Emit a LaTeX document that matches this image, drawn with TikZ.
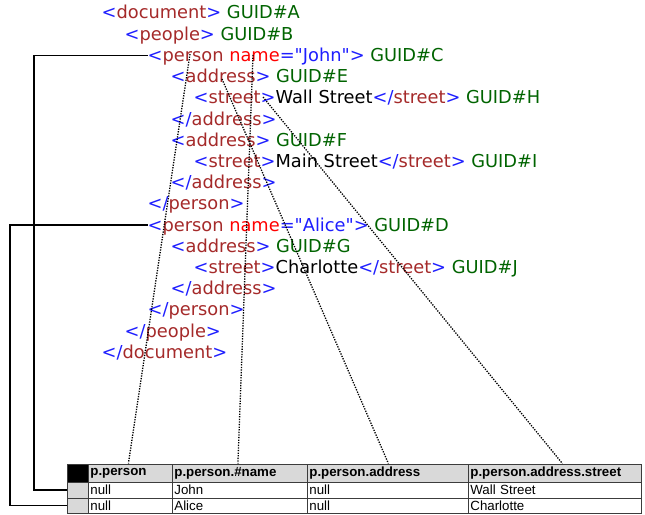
\documentclass[tikz,border=0pt]{standalone}
\usepackage{fontspec}
\setmainfont{DejaVu Sans}[Ligatures=TeXOff]
\newfontfamily\tabfont{Liberation Sans}
\usetikzlibrary{calc}
\definecolor{tb}{RGB}{30,30,255}
\definecolor{tn}{RGB}{165,42,42}
\definecolor{ta}{RGB}{255,0,0}
\definecolor{tg}{RGB}{0,100,0}
\definecolor{cellgray}{RGB}{217,217,217}
\definecolor{tgrid}{RGB}{60,60,60}
\newcommand\xo[1]{\textcolor{tb}{<}\textcolor{tn}{#1}\textcolor{tb}{>}}
\newcommand\xc[1]{\textcolor{tb}{</}\textcolor{tn}{#1}\textcolor{tb}{>}}
\newcommand\gid[1]{\textcolor{tg}{GUID\##1}}
\newcommand\xp[1]{\textcolor{tb}{<}\textcolor{tn}{person} \textcolor{ta}{name}\textcolor{tb}{="#1">}}
\begin{document}
\begin{tikzpicture}[x=1pt,y=-1pt,
  xml/.style={anchor=base west,inner sep=0pt,font=\fontsize{17.8}{20}\selectfont},
  cell/.style={draw=tgrid,line width=0.8pt,anchor=north west,inner ysep=0pt,inner xsep=2pt,align=left,font=\tabfont\fontsize{13.3}{15}\selectfont},
  hcell/.style={cell,fill=cellgray,font=\tabfont\bfseries\fontsize{13.3}{15}\selectfont},
  dotl/.style={line width=1.3pt,dash pattern=on 1.3pt off 1.3pt},
  solidl/.style={line width=1.8pt}]
\fill[white] (0,0) rectangle (645,514);
\useasboundingbox (0,0) rectangle (645,514);
% XML lines
\node[xml] (l1)  at (101.5,19)   {\xo{document} \gid{A}};
\node[xml] (l2)  at (124.5,40.2) {\xo{people} \gid{B}};
\node[xml] (pJ)  at (147.5,61.4) {\xp{John} \gid{C}};
\node[xml] (l4)  at (170.5,82.6) {\xo{address} \gid{E}};
\node[xml] (l5)  at (193.5,103.8) {\xo{street}Wall Street\xc{street} \gid{H}};
\node[xml] (l6)  at (170.5,125)  {\xc{address}};
\node[xml] (l7)  at (170.5,146.2) {\xo{address} \gid{F}};
\node[xml] (l8)  at (193.5,167.4) {\xo{street}Main Street\xc{street} \gid{I}};
\node[xml] (l9)  at (170.5,188.6) {\xc{address}};
\node[xml] (l10) at (147.5,209.8) {\xc{person}};
\node[xml] (pA)  at (147.5,231)  {\xp{Alice} \gid{D}};
\node[xml] (l12) at (170.5,252.2) {\xo{address} \gid{G}};
\node[xml] (l13) at (193.5,273.4) {\xo{street}Charlotte\xc{street} \gid{J}};
\node[xml] (l14) at (170.5,294.6) {\xc{address}};
\node[xml] (l15) at (147.5,315.8) {\xc{person}};
\node[xml] (l16) at (124.5,337)  {\xc{people}};
\node[xml] (l17) at (101.5,358.2) {\xc{document}};
% table
\node[hcell,fill=black,text width=17pt,minimum height=18.5pt] (hi) at (67,463.5) {};
\node[hcell,text width=80pt,minimum height=18.5pt] (h1) at (88,463.5) {p.person};
\node[hcell,text width=131pt,minimum height=18.5pt] (h2) at (172,463.5) {p.person.\#name};
\node[hcell,text width=157pt,minimum height=18.5pt] (h3) at (307,463.5) {p.person.address};
\node[hcell,text width=169pt,minimum height=18.5pt] (h4) at (468,463.5) {p.person.address.street};
\node[cell,fill=cellgray,text width=17pt,minimum height=15.5pt] (r1i) at (67,482) {};
\node[cell,text width=80pt,minimum height=15.5pt] (r1a) at (88,482) {null};
\node[cell,text width=131pt,minimum height=15.5pt] (r1b) at (172,482) {John};
\node[cell,text width=157pt,minimum height=15.5pt] (r1c) at (307,482) {null};
\node[cell,text width=169pt,minimum height=15.5pt] (r1d) at (468,482) {Wall Street};
\node[cell,fill=cellgray,text width=17pt,minimum height=15pt] (r2i) at (67,497.5) {};
\node[cell,text width=80pt,minimum height=15pt] (r2a) at (88,497.5) {null};
\node[cell,text width=131pt,minimum height=15pt] (r2b) at (172,497.5) {Alice};
\node[cell,text width=157pt,minimum height=15pt] (r2c) at (307,497.5) {null};
\node[cell,text width=169pt,minimum height=15pt] (r2d) at (468,497.5) {Charlotte};
% solid connectors
\coordinate (sJ) at ($(pJ.base west)+(0,-6)$);
\coordinate (sA) at ($(pA.base west)+(0,-6)$);
\draw[solidl] (sJ) -- ++(-113.5,0) |- (r1i.west);
\draw[solidl] (sA) -- ++(-137.5,0) |- (r2i.west);
% dotted connectors
\coordinate (dP) at (190,54);
\coordinate (dN) at (253,55);
\coordinate (dA) at (222,79);
\coordinate (dS) at (263,97);
\draw[dotl] (dP) -- ($(h1.north)+(-2,0)$);
\draw[dotl] (dN) -- ($(h2.north)+(-2,0)$);
\draw[dotl] (dA) -- ($(h3.north)+(0.5,0)$);
\draw[dotl] (dS) -- ($(h4.north)+(7.5,0)$);
\end{tikzpicture}
\end{document}
